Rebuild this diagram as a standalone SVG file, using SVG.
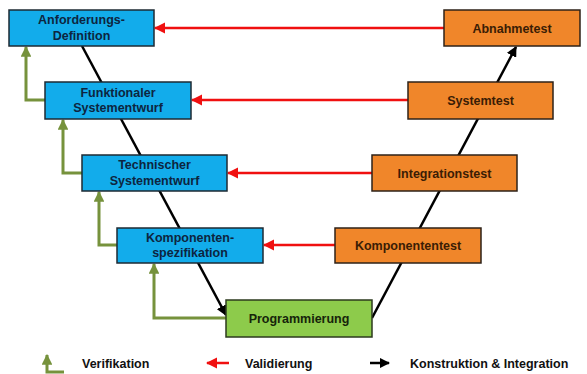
<svg xmlns="http://www.w3.org/2000/svg" width="587" height="374" viewBox="0 0 587 374">
<style>
.t{font-family:"Liberation Sans",Arial,sans-serif;font-weight:bold;font-size:12.5px;text-anchor:middle}
.blue rect{fill:#12ACEB;stroke:#1E2A33;stroke-width:1.5}
.blue text{fill:#0D2540}
.orange rect{fill:#F0862A;stroke:#2E2218;stroke-width:1.5}
.orange text{fill:#3A1D05}
.green rect{fill:#8DCB4B;stroke:#2C3A1E;stroke-width:1.5}
.green text{fill:#16240A}
.red{stroke:#F01010;stroke-width:2.5;fill:none}
.olive{stroke:#76923C;stroke-width:3;fill:none}
.blk{stroke:#000;stroke-width:2.5;fill:none}
.lg{font-family:"Liberation Sans",Arial,sans-serif;font-weight:bold;font-size:12.5px;fill:#111}
</style>
<defs>
<marker id="mr" viewBox="0 0 10 10" refX="9" refY="5" markerWidth="4.5" markerHeight="4.5" orient="auto" markerUnits="strokeWidth"><path d="M0,0 L10,5 L0,10 z" fill="#F01010"/></marker>
<marker id="mg" viewBox="0 0 10 10" refX="9" refY="5" markerWidth="3.6" markerHeight="3.6" orient="auto" markerUnits="strokeWidth"><path d="M0,0 L10,5 L0,10 z" fill="#76923C"/></marker>
<marker id="mb" viewBox="0 0 10 10" refX="9" refY="5" markerWidth="4.2" markerHeight="4.2" orient="auto" markerUnits="strokeWidth"><path d="M0,0 L10,5 L0,10 z" fill="#000"/></marker>
</defs>
<g id="connectors">
<path class="blk" d="M82,46 L226,315" marker-end="url(#mb)"/>
<path class="blk" d="M372,318 L516,47" marker-end="url(#mb)"/>
<path class="red" d="M444,28 H155" marker-end="url(#mr)"/>
<path class="red" d="M408,100 H192" marker-end="url(#mr)"/>
<path class="red" d="M372,173 H228" marker-end="url(#mr)"/>
<path class="red" d="M335,245 H264" marker-end="url(#mr)"/>
<path class="olive" d="M45,100 H26 V47" marker-end="url(#mg)"/>
<path class="olive" d="M82,173 H63 V120" marker-end="url(#mg)"/>
<path class="olive" d="M117,245 H99 V192" marker-end="url(#mg)"/>
<path class="olive" d="M226,318 H154 V264" marker-end="url(#mg)"/>
</g>
<g id="n-anforderung" class="blue"><rect x="9" y="10" width="145" height="36"/><text class="t" x="81.5" y="24">Anforderungs-</text><text class="t" x="81.5" y="39.5">Definition</text></g>
<g id="n-funktional" class="blue"><rect x="45" y="82" width="146" height="37"/><text class="t" x="118" y="96.5">Funktionaler</text><text class="t" x="118" y="112">Systementwurf</text></g>
<g id="n-technisch" class="blue"><rect x="82" y="155" width="145" height="36"/><text class="t" x="154.5" y="169">Technischer</text><text class="t" x="154.5" y="184.5">Systementwurf</text></g>
<g id="n-komponentenspez" class="blue"><rect x="117" y="228" width="146" height="35"/><text class="t" x="190" y="241.5">Komponenten-</text><text class="t" x="190" y="257">spezifikation</text></g>
<g id="n-programmierung" class="green"><rect x="226" y="300" width="146" height="37"/><text class="t" x="299" y="323">Programmierung</text></g>
<g id="n-komponententest" class="orange"><rect x="335" y="228" width="146" height="35"/><text class="t" x="408" y="250">Komponententest</text></g>
<g id="n-integrationstest" class="orange"><rect x="372" y="155" width="145" height="36"/><text class="t" x="444.5" y="177.5">Integrationstest</text></g>
<g id="n-systemtest" class="orange"><rect x="408" y="82" width="145" height="37"/><text class="t" x="480.5" y="105">Systemtest</text></g>
<g id="n-abnahmetest" class="orange"><rect x="444" y="10" width="136" height="36"/><text class="t" x="512" y="32.5">Abnahmetest</text></g>
<g id="legend">
<path class="olive" d="M64,372 H47 V355" marker-end="url(#mg)"/>
<text class="lg" x="82" y="368">Verifikation</text>
<path class="red" d="M229,363 H207" marker-end="url(#mr)"/>
<text class="lg" x="245" y="368">Validierung</text>
<path class="blk" d="M370,363 H389" marker-end="url(#mb)"/>
<text class="lg" x="410" y="368">Konstruktion &amp; Integration</text>
</g>
</svg>
